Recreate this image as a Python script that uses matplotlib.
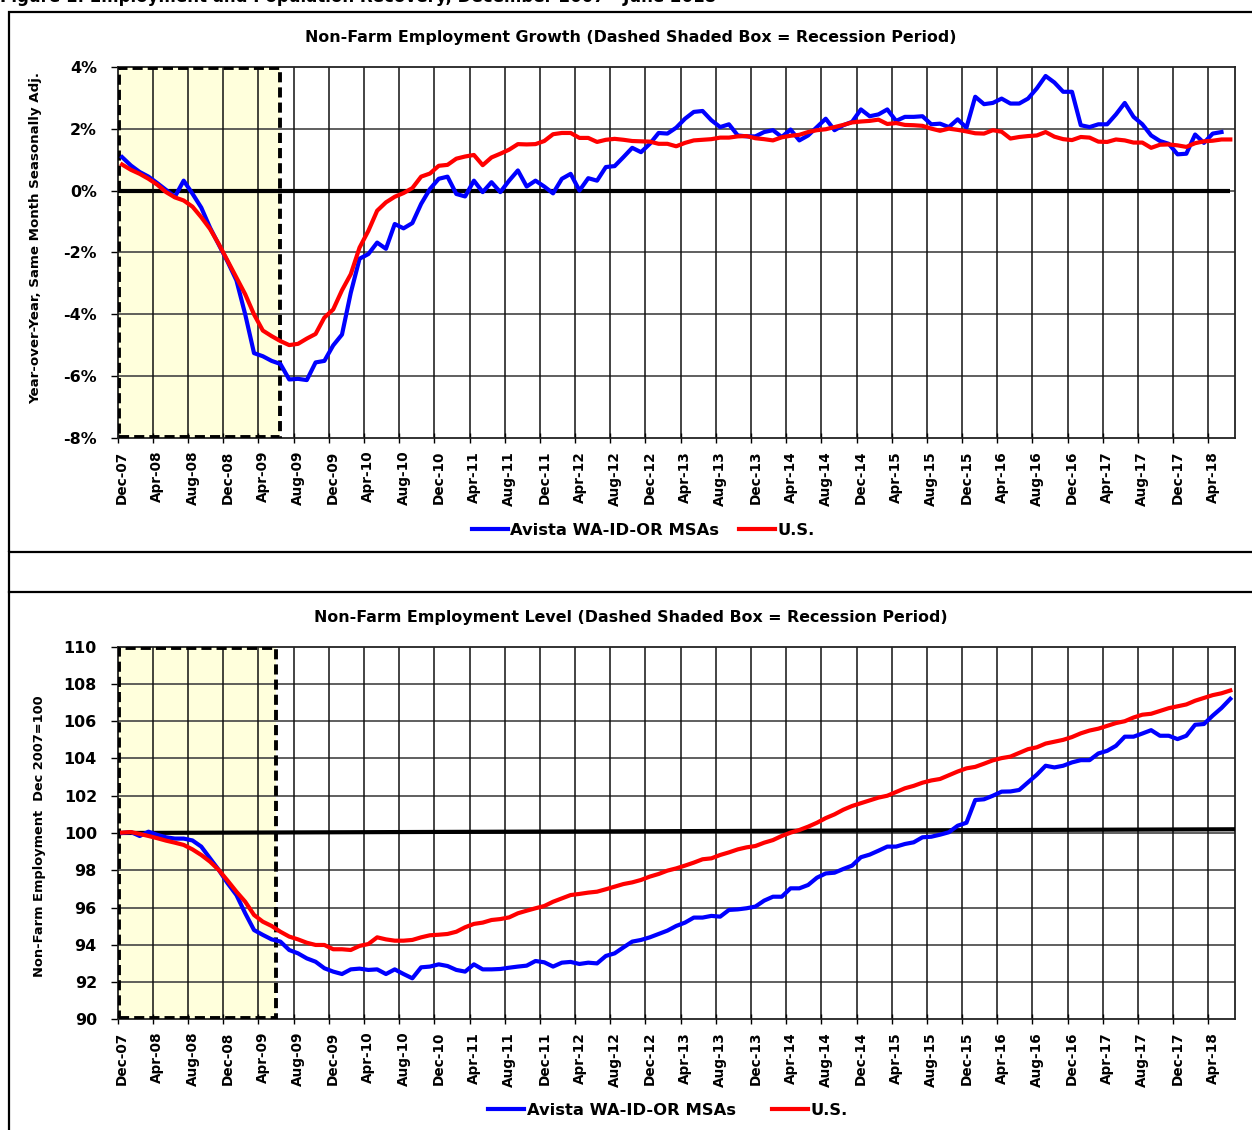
import numpy as np
import matplotlib
matplotlib.use('Agg')
import matplotlib.pyplot as plt
from matplotlib.patches import Rectangle
from matplotlib.lines import Line2D

plt.rcParams['font.family'] = ['DejaVu Sans']
plt.rcParams['font.weight'] = 'bold'

# ---- data (monthly, Dec-07 .. Jun-18) ----
tick_labels = ['Dec-07', 'Apr-08', 'Aug-08', 'Dec-08', 'Apr-09', 'Aug-09', 'Dec-09', 'Apr-10',
               'Aug-10', 'Dec-10', 'Apr-11', 'Aug-11', 'Dec-11', 'Apr-12', 'Aug-12', 'Dec-12',
               'Apr-13', 'Aug-13', 'Dec-13', 'Apr-14', 'Aug-14', 'Dec-14', 'Apr-15', 'Aug-15',
               'Dec-15', 'Apr-16', 'Aug-16', 'Dec-16', 'Apr-17', 'Aug-17', 'Dec-17', 'Apr-18']
n_months = 127
recession_months = 18   # Dec-07 .. Jun-09

# year-over-year growth, %
growth_avista = [1.08, 0.81, 0.60, 0.45, 0.24, 0.02, -0.20, 0.32, -0.10, -0.55,
                 -1.20, -1.75, -2.30, -2.90, -4.00, -5.25, -5.35, -5.50, -5.60, -6.10,
                 -6.08, -6.12, -5.55, -5.50, -5.00, -4.65, -3.30, -2.20, -2.05, -1.68,
                 -1.88, -1.08, -1.22, -1.05, -0.43, 0.05, 0.38, 0.45, -0.11, -0.19,
                 0.32, -0.05, 0.27, -0.05, 0.32, 0.65, 0.13, 0.32, 0.13, -0.09,
                 0.38, 0.54, 0.00, 0.40, 0.32, 0.76, 0.79, 1.08, 1.38, 1.24,
                 1.51, 1.86, 1.84, 2.03, 2.32, 2.54, 2.57, 2.27, 2.05, 2.14,
                 1.78, 1.75, 1.75, 1.89, 1.95, 1.73, 1.97, 1.62, 1.78, 2.05,
                 2.32, 1.95, 2.11, 2.22, 2.62, 2.40, 2.46, 2.62, 2.25, 2.38,
                 2.38, 2.40, 2.14, 2.16, 2.05, 2.30, 2.03, 3.03, 2.79, 2.83,
                 2.97, 2.81, 2.81, 2.97, 3.30, 3.70, 3.49, 3.19, 3.19, 2.11,
                 2.05, 2.14, 2.14, 2.46, 2.83, 2.38, 2.14, 1.78, 1.60, 1.51,
                 1.17, 1.19, 1.81, 1.54, 1.84, 1.89]
growth_us = [0.84, 0.67, 0.54, 0.38, 0.19, -0.05, -0.22, -0.32, -0.52, -0.86,
             -1.24, -1.73, -2.27, -2.81, -3.35, -4.00, -4.52, -4.70, -4.86, -4.99,
             -4.95, -4.78, -4.63, -4.10, -3.84, -3.22, -2.70, -1.84, -1.30, -0.65,
             -0.38, -0.20, -0.08, 0.08, 0.45, 0.55, 0.80, 0.83, 1.03, 1.10,
             1.15, 0.82, 1.07, 1.19, 1.32, 1.50, 1.49, 1.50, 1.60, 1.82,
             1.86, 1.86, 1.70, 1.70, 1.57, 1.64, 1.67, 1.64, 1.60, 1.59,
             1.58, 1.51, 1.51, 1.43, 1.54, 1.62, 1.64, 1.66, 1.71, 1.71,
             1.75, 1.76, 1.69, 1.66, 1.62, 1.72, 1.77, 1.80, 1.89, 1.95,
             1.98, 2.05, 2.12, 2.20, 2.23, 2.25, 2.29, 2.15, 2.18, 2.12,
             2.11, 2.09, 2.00, 1.93, 2.00, 1.96, 1.91, 1.85, 1.84, 1.95,
             1.90, 1.68, 1.73, 1.76, 1.78, 1.89, 1.74, 1.66, 1.63, 1.73,
             1.71, 1.58, 1.57, 1.65, 1.62, 1.55, 1.55, 1.38, 1.48, 1.49,
             1.46, 1.41, 1.53, 1.59, 1.61, 1.65, 1.65]

# employment level, Dec 2007 = 100
level_avista = [100.00, 100.05, 99.84, 100.07, 99.90, 99.77, 99.70, 99.70, 99.60, 99.27,
                98.64, 98.01, 97.30, 96.67, 95.69, 94.79, 94.53, 94.29, 94.17, 93.72,
                93.54, 93.27, 93.09, 92.74, 92.56, 92.43, 92.68, 92.72, 92.65, 92.68,
                92.43, 92.68, 92.43, 92.20, 92.79, 92.83, 92.95, 92.86, 92.65, 92.56,
                92.95, 92.68, 92.68, 92.70, 92.77, 92.83, 92.88, 93.13, 93.06, 92.83,
                93.04, 93.08, 92.97, 93.04, 93.00, 93.40, 93.54, 93.86, 94.17, 94.26,
                94.40, 94.58, 94.76, 95.01, 95.19, 95.46, 95.46, 95.55, 95.51, 95.87,
                95.90, 95.96, 96.05, 96.37, 96.58, 96.58, 97.03, 97.03, 97.21, 97.60,
                97.83, 97.87, 98.07, 98.25, 98.70, 98.84, 99.05, 99.27, 99.27, 99.41,
                99.50, 99.77, 99.80, 99.91, 100.04, 100.39, 100.55, 101.77, 101.81, 102.00,
                102.22, 102.23, 102.31, 102.72, 103.13, 103.61, 103.52, 103.61, 103.79, 103.91,
                103.91, 104.27, 104.41, 104.68, 105.17, 105.17, 105.34, 105.52, 105.22, 105.22,
                105.04, 105.22, 105.81, 105.85, 106.30, 106.71, 107.20]
level_us = [100.02, 100.05, 99.95, 99.84, 99.72, 99.59, 99.48, 99.36, 99.12, 98.82,
            98.46, 98.01, 97.44, 96.85, 96.31, 95.60, 95.24, 95.01, 94.70, 94.44,
            94.29, 94.11, 93.99, 93.99, 93.76, 93.76, 93.72, 93.94, 94.04, 94.40,
            94.29, 94.22, 94.22, 94.26, 94.40, 94.51, 94.54, 94.58, 94.70, 94.94,
            95.12, 95.19, 95.33, 95.38, 95.47, 95.69, 95.83, 95.96, 96.08, 96.31,
            96.49, 96.67, 96.73, 96.80, 96.85, 96.98, 97.12, 97.26, 97.35, 97.48,
            97.66, 97.80, 97.98, 98.10, 98.25, 98.41, 98.59, 98.64, 98.82, 98.96,
            99.12, 99.23, 99.30, 99.48, 99.62, 99.84, 100.02, 100.16, 100.34, 100.55,
            100.80, 101.00, 101.25, 101.45, 101.60, 101.75, 101.90, 102.00, 102.20, 102.40,
            102.53, 102.70, 102.82, 102.90, 103.10, 103.30, 103.47, 103.55, 103.72, 103.90,
            104.02, 104.10, 104.30, 104.50, 104.60, 104.80, 104.90, 105.00, 105.15, 105.35,
            105.50, 105.60, 105.75, 105.90, 106.00, 106.20, 106.35, 106.40, 106.55, 106.70,
            106.80, 106.90, 107.10, 107.25, 107.40, 107.50, 107.65]
level_base = [100.0, 100.2]   # reference line drawn in the level chart (start, end)

series_names = ['Avista WA-ID-OR MSAs', 'U.S.']

W, H = 1252, 1130
fig = plt.figure(figsize=(W / 100, H / 100), dpi=100)


def fx(px):
    return px / W


def fy(py):
    return 1 - py / H


# outer title, clipped by the top edge
fig.text(0.0, fy(2.0), 'Figure 1: Employment and Population Recovery, December 2007 - June 2018',
         fontsize=12, fontweight='bold', ha='left', va='baseline')

# panel frames
fig.add_artist(Rectangle((fx(8.5), fy(552)), fx(1260), (552 - 11.5) / H, transform=fig.transFigure,
                         fill=False, edgecolor='black', lw=1.6))
fig.add_artist(Rectangle((fx(8.5), fy(1140)), fx(1260), (1140 - 592) / H, transform=fig.transFigure,
                         fill=False, edgecolor='black', lw=1.6))
fig.add_artist(Line2D([fx(8.5), fx(8.5)], [fy(552), fy(592)], transform=fig.transFigure,
                      color='black', lw=1.6))

ax_left, ax_w = fx(117.7), (1234.7 - 117.7) / W
ax1 = fig.add_axes([ax_left, fy(438.3), ax_w, (438.3 - 66.7) / H])
ax2 = fig.add_axes([ax_left, fy(1019.3), ax_w, (1019.3 - 646.7) / H])

x_all = np.arange(n_months) + 0.5
title_x = (631 - 117.7) / (1234.7 - 117.7)   # titles are centred on the panel, not the plot area


def style_axes(ax, ylo, yhi, ystep, fmt, rec_end):
    ax.set_xlim(0, n_months)
    ax.set_ylim(ylo, yhi)
    yt = np.arange(ylo, yhi + ystep / 2, ystep)
    ax.set_yticks(yt)
    ax.set_yticklabels([fmt(v) for v in yt])
    # recession box
    ax.add_patch(Rectangle((0, ylo), rec_end, yhi - ylo, facecolor='#FFFFDC', edgecolor='none', zorder=0.5))
    ax.add_patch(Rectangle((0.15, ylo + (yhi - ylo) * 0.004), rec_end - 0.15, (yhi - ylo) * 0.992,
                           facecolor='none', edgecolor='black', lw=2.8, linestyle=(0, (2.6, 1.3)), zorder=3))
    # grid
    for v in yt[1:-1]:
        ax.axhline(v, color='#444444', lw=1.2, zorder=1)
    for b in range(4, n_months - 2, 4):
        ax.axvline(b, color='#111111', lw=1.1, zorder=1)
    ax.set_xticks(np.arange(0, n_months - 2, 4) + 0.5)
    ax.set_xticklabels(tick_labels, rotation=90, fontsize=9.8, fontweight='bold')
    ax.set_xticks(np.arange(0, n_months - 2, 4), minor=True)
    ax.tick_params(axis='x', which='major', length=0, pad=9)
    ax.tick_params(axis='x', which='minor', direction='inout', length=7, width=1.0)
    ax.tick_params(axis='y', length=5, width=1.0, pad=10, labelsize=11.4)
    for lab in ax.get_yticklabels():
        lab.set_fontweight('bold')
    for s in ax.spines.values():
        s.set_linewidth(1.3)
        s.set_color('#222222')


# ---- growth chart ----
style_axes(ax1, -8, 4, 2, lambda v: '%d%%' % v, recession_months + 0.5)
ax1.hlines(0, 0, n_months - 0.5, color='black', lw=3.0, zorder=3.5)
ax1.plot(x_all[:len(growth_avista)], growth_avista, color='#0000FF', lw=3.0, zorder=4,
         solid_joinstyle='round', label=series_names[0])
ax1.plot(x_all, growth_us, color='#FF0000', lw=3.0, zorder=5, solid_joinstyle='round', label=series_names[1])
ax1.set_ylabel('Year-over-Year, Same Month Seasonally Adj.', fontsize=9.6, fontweight='bold')
ax1.set_title('Non-Farm Employment Growth (Dashed Shaded Box = Recession Period)',
              fontsize=11.4, fontweight='bold', pad=18, x=title_x)

# ---- level chart ----
style_axes(ax2, 90, 110, 2, lambda v: '%d' % v, recession_months)
ax2.plot([0, n_months], level_base, color='black', lw=3.0, zorder=3.5)
ax2.plot(x_all, level_avista, color='#0000FF', lw=3.0, zorder=4, solid_joinstyle='round', label=series_names[0])
ax2.plot(x_all, level_us, color='#FF0000', lw=3.0, zorder=5, solid_joinstyle='round', label=series_names[1])
ax2.set_ylabel('Non-Farm Employment  Dec 2007=100', fontsize=9.4, fontweight='bold')
ax2.set_title('Non-Farm Employment Level (Dashed Shaded Box = Recession Period)',
              fontsize=11.4, fontweight='bold', pad=18, x=title_x)

# label positions in figure pixels
ax1.yaxis.set_label_coords(fx(36), fy(238), transform=fig.transFigure)
ax2.yaxis.set_label_coords(fx(40), fy(836), transform=fig.transFigure)
for ax in (ax1, ax2):
    ax.yaxis.label.set_va('center')

# legends
for ax, ly, lx, csp in ((ax1, 530.5, 643, 1.2), (ax2, 1110.5, 668, 2.2)):
    h, l = ax.get_legend_handles_labels()
    fig.legend(h, l, loc='center', bbox_to_anchor=(fx(lx), fy(ly)), ncol=2, frameon=False,
               handlelength=2.2, handletextpad=0.15, columnspacing=csp,
               prop={'weight': 'bold', 'size': 11.8})

fig.savefig('out.png', dpi=100)
